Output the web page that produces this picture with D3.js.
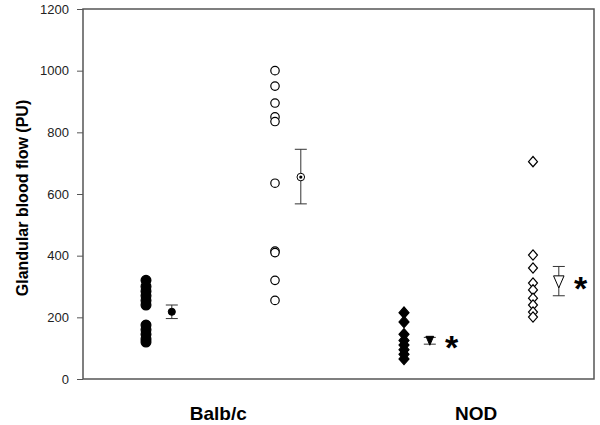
<!DOCTYPE html>
<html>
<head>
<meta charset="utf-8">
<script src="https://cdn.jsdelivr.net/npm/d3@7"></script>
<style>
  body { margin: 0; background: #fff; }
  text { font-family: Arial, "Liberation Sans", sans-serif; }
</style>
</head>
<body>
<div id="chart"></div>
<script>
// raw points per column
var balbFilled = [320, 300, 285, 270, 255, 240, 175, 160, 145, 130, 120];
var balbOpen   = [1000, 950, 895, 850, 835, 635, 415, 410, 320, 255];
var nodFilled  = [215, 185, 145, 125, 110, 95, 80, 65];
var nodOpen    = [705, 402, 360, 311, 289, 262, 240, 217, 201];

// mean and error bar ends per column
var means   = [218, 655, 124, 315];
var errLow  = [196, 568, 113, 270];
var errHigh = [240, 745, 135, 365];
var starred = [false, false, true, true];

var groupLabels = ["Balb/c", "NOD"];
var yTicks = [0, 200, 400, 600, 800, 1000, 1200];

// note: "top" is reserved on window, so plot edges get their own names
var width = 600, height = 425;
var plotLeft = 83, plotRight = 594, plotTop = 9, plotBottom = 379;

var svg = d3.select("#chart").append("svg")
    .attr("width", width).attr("height", height);

var y = d3.scaleLinear().domain([0, 1200]).range([plotBottom, plotTop]);
// columns sit at 1..4 on a plain linear scale
var x = d3.scaleLinear().domain([1, 4]).range([146, 533]);

// frame
svg.append("rect")
    .attr("x", plotLeft).attr("y", plotTop)
    .attr("width", plotRight - plotLeft).attr("height", plotBottom - plotTop)
    .attr("fill", "none").attr("stroke", "#555").attr("stroke-width", 1.5);

var yAxis = svg.append("g")
    .attr("transform", "translate(" + plotLeft + ",0)")
    .call(d3.axisLeft(y).tickValues(yTicks).tickSize(6).tickPadding(8).tickFormat(d3.format("d")));
yAxis.select(".domain").remove();
yAxis.selectAll("line").attr("stroke", "#555");
yAxis.selectAll("text").attr("font-size", 13).attr("fill", "#222")
    .style("font-family", "Arial, 'Liberation Sans', sans-serif");

svg.append("text")
    .attr("transform", "translate(22,198) rotate(-90)")
    .attr("text-anchor", "middle").attr("dy", "0.35em")
    .attr("font-size", 16).attr("font-weight", "bold")
    .text("Glandular blood flow (PU)");

svg.selectAll(".glabel").data(groupLabels).enter().append("text")
    .attr("x", function(d, i) { return x(1.56 + 2 * i); })
    .attr("y", 420)
    .attr("text-anchor", "middle")
    .attr("font-size", 19).attr("font-weight", "bold")
    .text(function(d) { return d; });

// shapes
var diamond = {
    draw: function(ctx, size) {
        var w = Math.sqrt(size) * 0.5, h = w * 1.15;
        ctx.moveTo(0, -h); ctx.lineTo(w, 0); ctx.lineTo(0, h); ctx.lineTo(-w, 0); ctx.closePath();
    }
};
var downTri = {
    draw: function(ctx, size) {
        var w = Math.sqrt(size) * 0.5, h = w * 1.15;
        ctx.moveTo(-w, -h); ctx.lineTo(w, -h); ctx.lineTo(0, h); ctx.closePath();
    }
};

var columns = [
    { vals: balbFilled, type: d3.symbolCircle, size: 76, fill: "#000", stroke: "#000" },
    { vals: balbOpen,   type: d3.symbolCircle, size: 56, fill: "#fff", stroke: "#000" },
    { vals: nodFilled,  type: diamond,          size: 100, fill: "#000", stroke: "#000" },
    { vals: nodOpen,    type: diamond,          size: 80, fill: "#fff", stroke: "#000" }
];

columns.forEach(function(c, i) {
    svg.append("g").selectAll("path").data(c.vals).enter().append("path")
        .attr("transform", function(d) { return "translate(" + x(i + 1) + "," + y(d) + ")"; })
        .attr("d", d3.symbol().type(c.type).size(c.size))
        .attr("fill", c.fill).attr("stroke", c.stroke).attr("stroke-width", 1.2);
});

// error bars
var mx = function(i) { return x(i + 1.2); };
var eb = svg.append("g").attr("stroke", "#333").attr("stroke-width", 1);
means.forEach(function(m, i) {
    eb.append("line").attr("x1", mx(i)).attr("x2", mx(i)).attr("y1", y(errLow[i])).attr("y2", y(errHigh[i]));
    [errLow[i], errHigh[i]].forEach(function(v) {
        eb.append("line").attr("x1", mx(i) - 6).attr("x2", mx(i) + 6).attr("y1", y(v)).attr("y2", y(v));
    });
});

// mean markers
var meanMarks = [
    { type: d3.symbolCircle, size: 40, fill: "#000" },
    { type: d3.symbolCircle, size: 45, fill: "#fff" },
    { type: downTri,          size: 60, fill: "#000" },
    { type: downTri,          size: 110, fill: "#fff" }
];
means.forEach(function(m, i) {
    svg.append("path")
        .attr("transform", "translate(" + mx(i) + "," + y(m) + ")")
        .attr("d", d3.symbol().type(meanMarks[i].type).size(meanMarks[i].size))
        .attr("fill", meanMarks[i].fill).attr("stroke", "#000").attr("stroke-width", 1);
});
// dot inside the open mean circle
svg.append("circle").attr("cx", mx(1)).attr("cy", y(means[1])).attr("r", 1.6).attr("fill", "#000");

// significance stars
means.forEach(function(m, i) {
    if (!starred[i]) return;
    svg.append("text")
        .attr("x", x(i + 1.37))
        .attr("y", y(m) + 18)
        .attr("text-anchor", "middle")
        .attr("font-size", 34).attr("font-weight", "bold")
        .text("*");
});
</script>
</body>
</html>
